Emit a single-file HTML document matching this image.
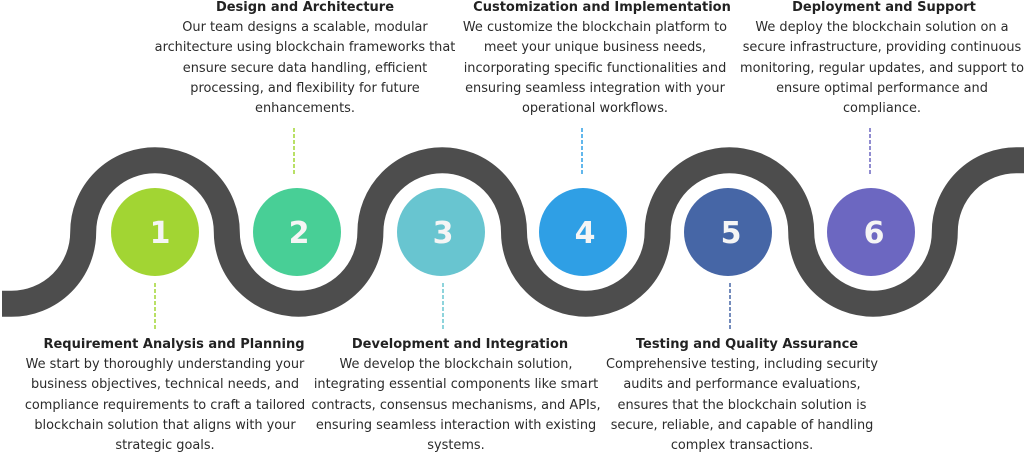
<!DOCTYPE html>
<html><head><meta charset="utf-8"><style>
body{margin:0;width:1024px;height:460px;background:#fff;overflow:hidden;position:relative;font-family:"DejaVu Sans","Liberation Sans",sans-serif;color:#2b2b2b}
.b{position:absolute;width:420px;text-align:center;font-size:12.9px;line-height:20.2px;white-space:nowrap}
.b b{display:block;font-size:13px;color:#222}
svg{position:absolute;left:0;top:0}
</style></head><body>
<svg width="1024" height="460">
<path d="M2,303.8 L11.4,303.8 A71.8,71.8 0 0 0 83.2,232 A71.8,71.8 0 0 1 226.8,232 A71.8,71.8 0 0 0 370.4,232 A71.8,71.8 0 0 1 514,232 A71.8,71.8 0 0 0 657.6,232 A71.8,71.8 0 0 1 801.2,232 A71.8,71.8 0 0 0 944.8,232 A71.6,71.6 0 0 1 1016.6,160.2 L1024,160.2" fill="none" stroke="#4d4d4d" stroke-width="26"/>
<g stroke-width="1.5" stroke-dasharray="4,2">
<line x1="294" y1="128" x2="294" y2="176" stroke="#a2d533"/>
<line x1="582" y1="128" x2="582" y2="176" stroke="#2f9fe5"/>
<line x1="870" y1="128" x2="870" y2="176" stroke="#6c67c1"/>
<line x1="155" y1="283" x2="155" y2="330" stroke="#a2d533"/>
<line x1="443" y1="283" x2="443" y2="330" stroke="#68c5d0"/>
<line x1="730" y1="283" x2="730" y2="330" stroke="#4666a6"/>
</g>
<g font-family="DejaVu Sans, sans-serif" font-weight="bold" font-size="30" fill="#f5f5f5" text-anchor="middle">
<circle cx="155" cy="232" r="44" fill="#a2d533"/><text x="160" y="243">1</text>
<circle cx="297" cy="232" r="44" fill="#48cf96"/><text x="299" y="243">2</text>
<circle cx="441" cy="232" r="44" fill="#68c5d0"/><text x="443" y="243">3</text>
<circle cx="583" cy="232" r="44" fill="#2f9fe5"/><text x="585" y="243">4</text>
<circle cx="728" cy="232" r="44" fill="#4666a6"/><text x="731" y="243">5</text>
<circle cx="871" cy="232" r="44" fill="#6c67c1"/><text x="874" y="243">6</text>
</g>
</svg>
<div class="b" style="left:-45px;top:335px"><b style="margin-left:18px">Requirement Analysis and Planning</b>We start by thoroughly understanding your<br>business objectives, technical needs, and<br>compliance requirements to craft a tailored<br>blockchain solution that aligns with your<br>strategic goals.</div>
<div class="b" style="left:95px;top:-2px"><b>Design and Architecture</b>Our team designs a scalable, modular<br>architecture using blockchain frameworks that<br>ensure secure data handling, efficient<br>processing, and flexibility for future<br>enhancements.</div>
<div class="b" style="left:246px;top:335px"><b style="margin-left:8px">Development and Integration</b>We develop the blockchain solution,<br>integrating essential components like smart<br>contracts, consensus mechanisms, and APIs,<br>ensuring seamless interaction with existing<br>systems.</div>
<div class="b" style="left:385px;top:-2px"><b style="margin-left:14px">Customization and Implementation</b>We customize the blockchain platform to<br>meet your unique business needs,<br>incorporating specific functionalities and<br>ensuring seamless integration with your<br>operational workflows.</div>
<div class="b" style="left:532px;top:335px"><b style="margin-left:10px">Testing and Quality Assurance</b>Comprehensive testing, including security<br>audits and performance evaluations,<br>ensures that the blockchain solution is<br>secure, reliable, and capable of handling<br>complex transactions.</div>
<div class="b" style="left:672px;top:-2px"><b style="margin-left:4px">Deployment and Support</b>We deploy the blockchain solution on a<br>secure infrastructure, providing continuous<br>monitoring, regular updates, and support to<br>ensure optimal performance and<br>compliance.</div>
</body></html>
